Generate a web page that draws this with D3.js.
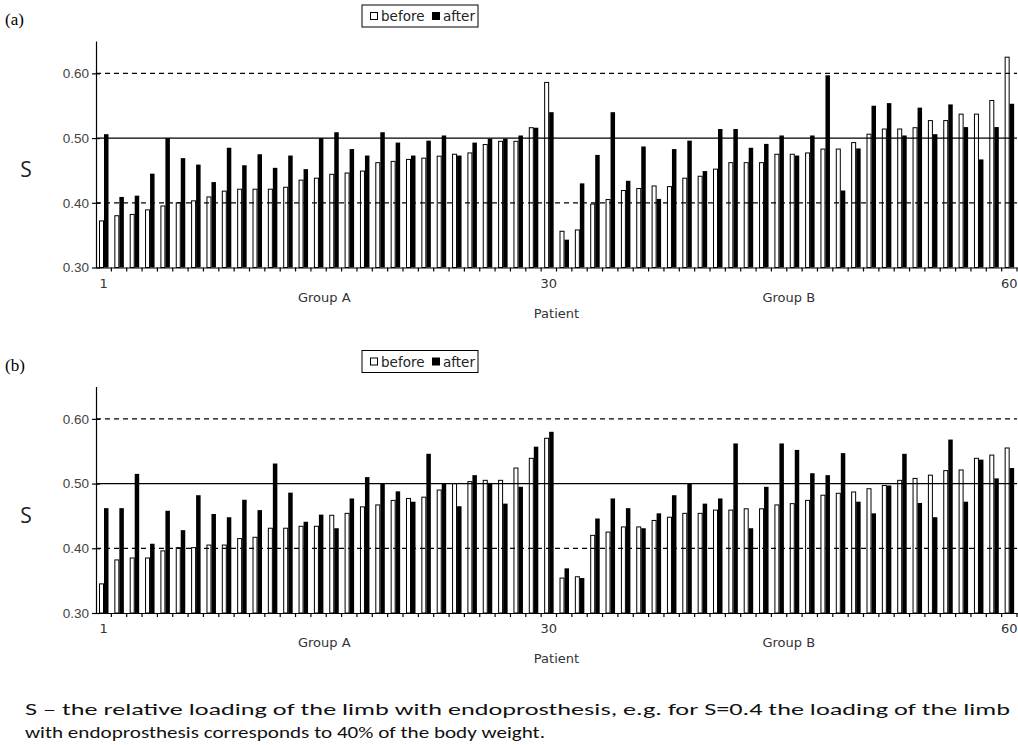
<!DOCTYPE html>
<html>
<head>
<meta charset="utf-8">
<script src="https://cdn.jsdelivr.net/npm/d3@7"></script>
<style>
  body { margin: 0; background: #fff; }
  svg { display: block; }
</style>
</head>
<body>
<svg id="chart" width="1018" height="745"></svg>
<script>
const patients = d3.range(1, 61);
const seriesNames = ["before", "after"];
const yTicks = [0.30, 0.40, 0.50, 0.60];

// panel (a)
const beforeA = [0.372, 0.380, 0.382, 0.389, 0.395, 0.400, 0.403, 0.409, 0.418, 0.421,
                 0.421, 0.421, 0.424, 0.435, 0.438, 0.444, 0.446, 0.449, 0.462, 0.464,
                 0.467, 0.469, 0.472, 0.475, 0.477, 0.490, 0.495, 0.495, 0.516, 0.586,
                 0.356, 0.358, 0.398, 0.405, 0.419, 0.422, 0.426, 0.425, 0.438, 0.441,
                 0.452, 0.462, 0.462, 0.462, 0.475, 0.475, 0.477, 0.483, 0.483, 0.493,
                 0.506, 0.514, 0.514, 0.516, 0.527, 0.527, 0.537, 0.537, 0.558, 0.625];
const afterA = [0.506, 0.409, 0.411, 0.445, 0.500, 0.469, 0.459, 0.432, 0.485, 0.458,
                0.475, 0.454, 0.473, 0.452, 0.500, 0.509, 0.483, 0.473, 0.509, 0.493,
                0.473, 0.496, 0.504, 0.473, 0.493, 0.499, 0.499, 0.504, 0.516, 0.540,
                0.343, 0.430, 0.474, 0.540, 0.434, 0.487, 0.406, 0.483, 0.496, 0.449,
                0.514, 0.514, 0.485, 0.491, 0.504, 0.473, 0.504, 0.597, 0.419, 0.484,
                0.550, 0.554, 0.504, 0.547, 0.506, 0.552, 0.517, 0.467, 0.517, 0.553];

// panel (b)
const beforeB = [0.345, 0.382, 0.385, 0.385, 0.396, 0.401, 0.401, 0.405, 0.405, 0.415,
                 0.417, 0.431, 0.431, 0.434, 0.434, 0.451, 0.454, 0.464, 0.467, 0.474,
                 0.477, 0.479, 0.490, 0.500, 0.503, 0.505, 0.505, 0.524, 0.539, 0.570,
                 0.354, 0.356, 0.420, 0.425, 0.433, 0.433, 0.443, 0.448, 0.454, 0.454,
                 0.459, 0.459, 0.461, 0.461, 0.467, 0.469, 0.474, 0.482, 0.485, 0.487,
                 0.492, 0.497, 0.505, 0.508, 0.513, 0.520, 0.521, 0.539, 0.544, 0.555];
const afterB = [0.462, 0.462, 0.515, 0.407, 0.458, 0.428, 0.482, 0.453, 0.448, 0.475,
                0.459, 0.531, 0.486, 0.441, 0.452, 0.431, 0.477, 0.510, 0.500, 0.488,
                0.472, 0.546, 0.500, 0.465, 0.513, 0.501, 0.469, 0.495, 0.557, 0.580,
                0.369, 0.354, 0.446, 0.477, 0.462, 0.431, 0.454, 0.482, 0.500, 0.469,
                0.477, 0.562, 0.431, 0.495, 0.562, 0.552, 0.516, 0.513, 0.547, 0.472,
                0.454, 0.497, 0.546, 0.470, 0.448, 0.568, 0.472, 0.537, 0.508, 0.524];

const panels = [
  { label: "(a)", before: beforeA, after: afterA, top: 41, bottom: 267.5 },
  { label: "(b)", before: beforeB, after: afterB, top: 386.5, bottom: 613 }
];

const svg = d3.select("#chart");
const axisFont = "'DejaVu Sans', Verdana, sans-serif";

const x = d3.scaleBand().domain(patients).range([96, 1017]).paddingInner(0).paddingOuter(0);
const xInner = d3.scaleBand().domain(seriesNames).range([3, 13]).padding(0);

panels.forEach(p => {
  const y = d3.scaleLinear().domain([0.30, 0.65]).range([p.bottom, p.top]);
  const g = svg.append("g");

  // panel letter
  g.append("text")
    .attr("x", 5).attr("y", y(0.65) - 16)
    .attr("font-family", "'Liberation Serif', 'Times New Roman', serif")
    .attr("font-size", 17)
    .text(p.label);

  // reference lines
  [[0.60, "5,4"], [0.50, null], [0.40, "5,4"]].forEach(([v, dash]) => {
    g.append("line")
      .attr("x1", 96).attr("x2", 1017)
      .attr("y1", y(v)).attr("y2", y(v))
      .attr("stroke", "#000").attr("stroke-width", 1.2)
      .attr("stroke-dasharray", dash);
  });

  const rows = patients.map((pt, i) => ({ pt, before: p.before[i], after: p.after[i] }));

  g.selectAll(".before")
    .data(rows)
    .enter().append("rect")
    .attr("x", d => x(d.pt) + xInner("before") + 0.5)
    .attr("y", d => y(d.before))
    .attr("width", xInner.bandwidth() - 1)
    .attr("height", d => y(0.30) - y(d.before))
    .attr("fill", "none")
    .attr("stroke", "#000")
    .attr("stroke-width", 1);

  g.selectAll(".after")
    .data(rows)
    .enter().append("rect")
    .attr("x", d => x(d.pt) + xInner("after"))
    .attr("y", d => y(d.after))
    .attr("width", xInner.bandwidth() - 0.5)
    .attr("height", d => y(0.30) - y(d.after))
    .attr("fill", "#000");

  // y axis
  const yAxis = g.append("g").attr("transform", "translate(96,0)")
    .call(d3.axisLeft(y).tickValues(yTicks).tickFormat(d3.format(".2f")).tickSizeInner(4).tickSizeOuter(0));
  yAxis.select(".domain").attr("stroke", "#000").attr("stroke-width", 1.2);
  yAxis.selectAll(".tick line").attr("x1", -4).attr("x2", 4).attr("stroke-width", 1.2);
  yAxis.selectAll(".tick text")
    .attr("x", -7)
    .attr("font-family", "'Liberation Sans', Arial, sans-serif")
    .attr("font-size", 13.5)
    .attr("fill", "#444");

  // x axis
  const xAxis = g.append("g").attr("transform", `translate(0,${y(0.30)})`)
    .call(d3.axisBottom(x).tickSize(0).tickFormat(""));
  xAxis.select(".domain").attr("stroke", "#000").attr("stroke-width", 1.2);
  xAxis.selectAll(".tick").remove();
  g.append("g").selectAll("line")
    .data(patients)
    .enter().append("line")
    .attr("x1", d => x(d) + x.bandwidth()).attr("x2", d => x(d) + x.bandwidth())
    .attr("y1", y(0.30)).attr("y2", y(0.30) + 4)
    .attr("stroke", "#000").attr("stroke-width", 1.2);

  [1, 30, 60].forEach(n => {
    g.append("text")
      .attr("x", x(n) + x.bandwidth() / 2)
      .attr("y", y(0.30) + 20)
      .attr("text-anchor", "middle")
      .attr("font-family", axisFont)
      .attr("font-size", 13)
      .attr("fill", "#333")
      .text(n);
  });

  g.append("text")
    .attr("x", (x(1) + x(30) + x.bandwidth()) / 2 - 2)
    .attr("y", y(0.30) + 34)
    .attr("text-anchor", "middle")
    .attr("font-family", axisFont).attr("font-size", 13).attr("fill", "#333")
    .text("Group A");
  g.append("text")
    .attr("x", (x(31) + x(60) + x.bandwidth()) / 2 + 2)
    .attr("y", y(0.30) + 34)
    .attr("text-anchor", "middle")
    .attr("font-family", axisFont).attr("font-size", 13).attr("fill", "#333")
    .text("Group B");
  g.append("text")
    .attr("x", x(30) + x.bandwidth())
    .attr("y", y(0.30) + 50)
    .attr("text-anchor", "middle")
    .attr("font-family", axisFont).attr("font-size", 13).attr("fill", "#333")
    .text("Patient");

  g.append("text")
    .attr("x", 26).attr("y", y(0.45) + 7)
    .attr("text-anchor", "middle")
    .attr("font-family", "'Open Sans', sans-serif")
    .attr("font-size", 21)
    .attr("fill", "#222")
    .text("S");

  // legend
  const lg = g.append("g").attr("transform", `translate(362,${y(0.65) - 36})`);
  lg.append("rect").attr("width", 116).attr("height", 22)
    .attr("fill", "#fff").attr("stroke", "#000").attr("stroke-width", 1);
  const items = lg.selectAll(".item")
    .data(seriesNames)
    .enter().append("g")
    .attr("transform", (d, i) => `translate(${8 + i * 62},0)`);
  items.append("rect")
    .attr("x", 0.5).attr("y", 7.5).attr("width", 7).attr("height", 7)
    .attr("fill", d => d === "before" ? "#fff" : "#000")
    .attr("stroke", "#000").attr("stroke-width", 1);
  items.append("text")
    .attr("x", 11).attr("y", 16)
    .attr("font-family", axisFont).attr("font-size", 13.5).attr("fill", "#222")
    .text(d => d);
});

// footnote
const note = [
  "S \u2013 the relative loading of the limb with endoprosthesis, e.g. for S=0.4 the loading of the limb",
  "with endoprosthesis corresponds to 40% of the body weight."
];
svg.selectAll(".note")
  .data(note)
  .enter().append("text")
  .attr("x", 25)
  .attr("y", (d, i) => 715 + i * 23)
  .attr("font-family", "Carlito, 'Liberation Sans Narrow', 'Open Sans', sans-serif")
  .attr("font-size", 17)
  .attr("fill", "#111")
  .attr("textLength", (d, i) => i === 0 ? 985 : 520)
  .attr("lengthAdjust", "spacingAndGlyphs")
  .text(d => d);
</script>
</body>
</html>
